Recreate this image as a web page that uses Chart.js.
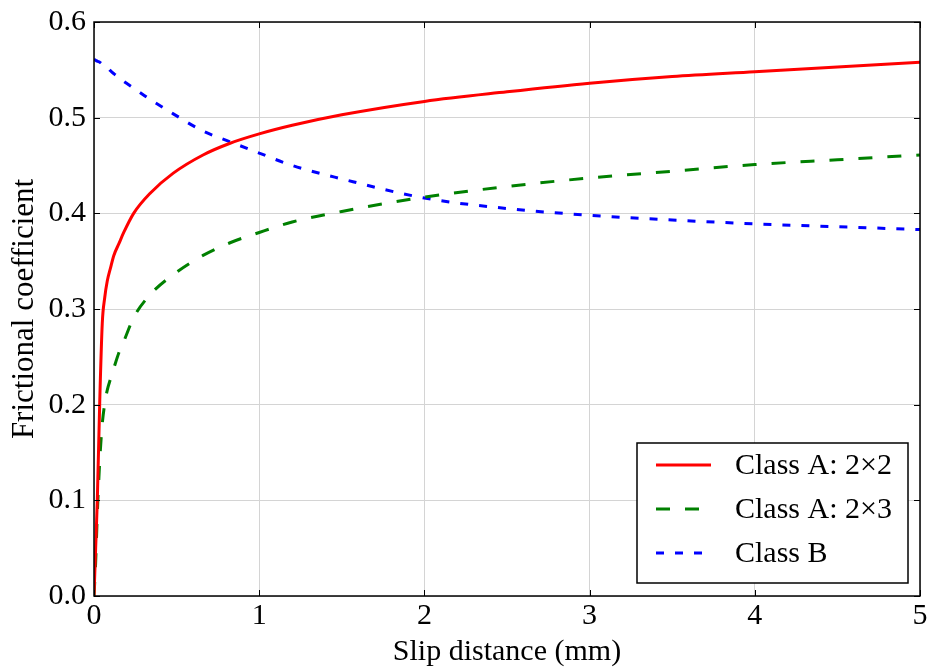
<!DOCTYPE html>
<html>
<head>
<meta charset="utf-8">
<script src="https://cdn.jsdelivr.net/npm/chart.js@4.4.1/dist/chart.umd.min.js"></script>
<style>
  html, body { margin: 0; padding: 0; background: #fff; }
  #wrap { width: 932px; height: 670px; }
</style>
</head>
<body>
<div id="wrap"><canvas id="friction-chart" width="932" height="670"></canvas></div>
<script>
// slip distance (mm), shared by the three curves
var slipDistance = [0, 0.01, 0.02, 0.035, 0.05, 0.065, 0.08, 0.1, 0.12, 0.15, 0.18, 0.24, 0.34, 0.48,
    0.66, 0.82, 1, 1.2, 1.5, 2, 2.5, 3, 3.5, 4, 4.5, 5];

// frictional coefficient
var classA22 = [0, 0.05, 0.10, 0.205, 0.285, 0.312, 0.329, 0.343, 0.356, 0.368, 0.380, 0.400, 0.421, 0.442,
    0.461, 0.473, 0.483, 0.492, 0.503, 0.517, 0.527, 0.536, 0.543, 0.548, 0.553, 0.558];
var classA23 = [0, 0.035, 0.085, 0.142, 0.180, 0.201, 0.215, 0.227, 0.238, 0.254, 0.266, 0.291, 0.315, 0.336,
    0.356, 0.369, 0.380, 0.391, 0.402, 0.417, 0.428, 0.437, 0.444, 0.451, 0.456, 0.461];
var classB = [0.561, 0.560, 0.559, 0.558, 0.556, 0.555, 0.553, 0.549, 0.546, 0.542, 0.538, 0.531, 0.519, 0.504,
    0.486, 0.475, 0.463, 0.450, 0.436, 0.416, 0.405, 0.398, 0.393, 0.389, 0.386, 0.383];

var seriesLabels = ['Class A: 2\u00d72', 'Class A: 2\u00d73', 'Class B'];
var xTicks = [0, 1, 2, 3, 4, 5];
var yTicks = [0, 0.1, 0.2, 0.3, 0.4, 0.5, 0.6];

var FONT = '"Liberation Serif", "Times New Roman", serif';

function toPoints(ys) {
    return slipDistance.map(function (x, i) {
        return {x: x, y: ys[i]};
    });
}

/**
 * Axes frame with inward ticks on all four sides, matplotlib style.
 */
var framePlugin = {
    id: 'frame',
    afterDatasetsDraw: function (chart) {
        var ctx = chart.ctx;
        var a = chart.chartArea;
        var xs = chart.scales.x;
        var ys = chart.scales.y;
        var tl = 6;
        ctx.save();
        ctx.strokeStyle = '#000';
        ctx.lineWidth = 1;
        ctx.beginPath();
        xTicks.forEach(function (v) {
            var px = Math.round(xs.getPixelForValue(v)) + 0.5;
            ctx.moveTo(px, a.bottom); ctx.lineTo(px, a.bottom - tl);
            ctx.moveTo(px, a.top); ctx.lineTo(px, a.top + tl);
        });
        yTicks.forEach(function (v) {
            var py = Math.round(ys.getPixelForValue(v)) + 0.5;
            ctx.moveTo(a.left, py); ctx.lineTo(a.left + tl, py);
            ctx.moveTo(a.right, py); ctx.lineTo(a.right - tl, py);
        });
        ctx.stroke();
        ctx.lineWidth = 1.5;
        ctx.strokeRect(a.left, a.top, a.right - a.left, a.bottom - a.top);
        ctx.restore();
    }
};

/**
 * Boxed legend in the lower right corner of the plot.
 */
var legendPlugin = {
    id: 'boxLegend',
    afterDraw: function (chart) {
        var ctx = chart.ctx;
        var a = chart.chartArea;
        var w = 271, h = 140;
        var x0 = a.right - 12 - w;
        var y0 = a.bottom - 13 - h;
        ctx.save();
        ctx.fillStyle = '#fff';
        ctx.fillRect(x0, y0, w, h);
        ctx.strokeStyle = '#000';
        ctx.lineWidth = 1.5;
        ctx.strokeRect(x0, y0, w, h);
        ctx.font = '30px ' + FONT;
        ctx.textBaseline = 'middle';
        chart.data.datasets.forEach(function (ds, i) {
            var cy = y0 + 22 + i * 44;
            ctx.strokeStyle = ds.borderColor;
            ctx.lineWidth = ds.borderWidth;
            ctx.setLineDash(ds.borderDash || []);
            ctx.beginPath();
            ctx.moveTo(x0 + 19, cy);
            ctx.lineTo(x0 + 74, cy);
            ctx.stroke();
            ctx.setLineDash([]);
            ctx.fillStyle = '#000';
            ctx.fillText(ds.label, x0 + 98, cy + 1);
        });
        ctx.restore();
    }
};

var config = {
    type: 'line',
    data: {
        datasets: [
            {
                label: seriesLabels[0],
                data: toPoints(classA22),
                borderColor: '#ff0000',
                borderWidth: 3,
                pointRadius: 0,
                cubicInterpolationMode: 'monotone',
                fill: false
            },
            {
                label: seriesLabels[1],
                data: toPoints(classA23),
                borderColor: '#008000',
                borderWidth: 3,
                borderDash: [14, 15],
                pointRadius: 0,
                cubicInterpolationMode: 'monotone',
                fill: false
            },
            {
                label: seriesLabels[2],
                data: toPoints(classB),
                borderColor: '#0000ff',
                borderWidth: 3,
                borderDash: [8, 11],
                pointRadius: 0,
                cubicInterpolationMode: 'monotone',
                fill: false
            }
        ]
    },
    options: {
        responsive: false,
        animation: false,
        layout: {
            padding: {left: 0, right: 12, top: 22, bottom: 0}
        },
        plugins: {
            legend: {display: false},
            tooltip: {enabled: false}
        },
        scales: {
            x: {
                type: 'linear',
                min: 0,
                max: 5,
                afterBuildTicks: function (scale) {
                    scale.ticks = xTicks.map(function (v) { return {value: v}; });
                },
                ticks: {
                    font: {family: FONT, size: 30},
                    color: '#000',
                    padding: 2,
                    maxRotation: 0,
                    callback: function (v) { return String(v); }
                },
                grid: {color: '#d4d4d4', lineWidth: 1, drawTicks: false},
                border: {display: false},
                title: {
                    display: true,
                    text: 'Slip distance (mm)',
                    font: {family: FONT, size: 30},
                    color: '#000',
                    padding: {top: 0, bottom: 0}
                },
                afterFit: function (scale) { scale.height = 74; }
            },
            y: {
                type: 'linear',
                min: 0,
                max: 0.6,
                afterBuildTicks: function (scale) {
                    scale.ticks = yTicks.map(function (v) { return {value: v}; });
                },
                ticks: {
                    font: {family: FONT, size: 30, lineHeight: 0.9},
                    color: '#000',
                    padding: 8,
                    callback: function (v) { return Number(v).toFixed(1); }
                },
                grid: {color: '#d4d4d4', lineWidth: 1, drawTicks: false},
                border: {display: false},
                title: {
                    display: true,
                    text: 'Frictional coefficient',
                    font: {family: FONT, size: 31},
                    color: '#000',
                    padding: {top: 6, bottom: 0}
                },
                afterFit: function (scale) { scale.width = 94; }
            }
        }
    },
    plugins: [framePlugin, legendPlugin]
};

new Chart(document.getElementById('friction-chart'), config);
</script>
</body>
</html>
